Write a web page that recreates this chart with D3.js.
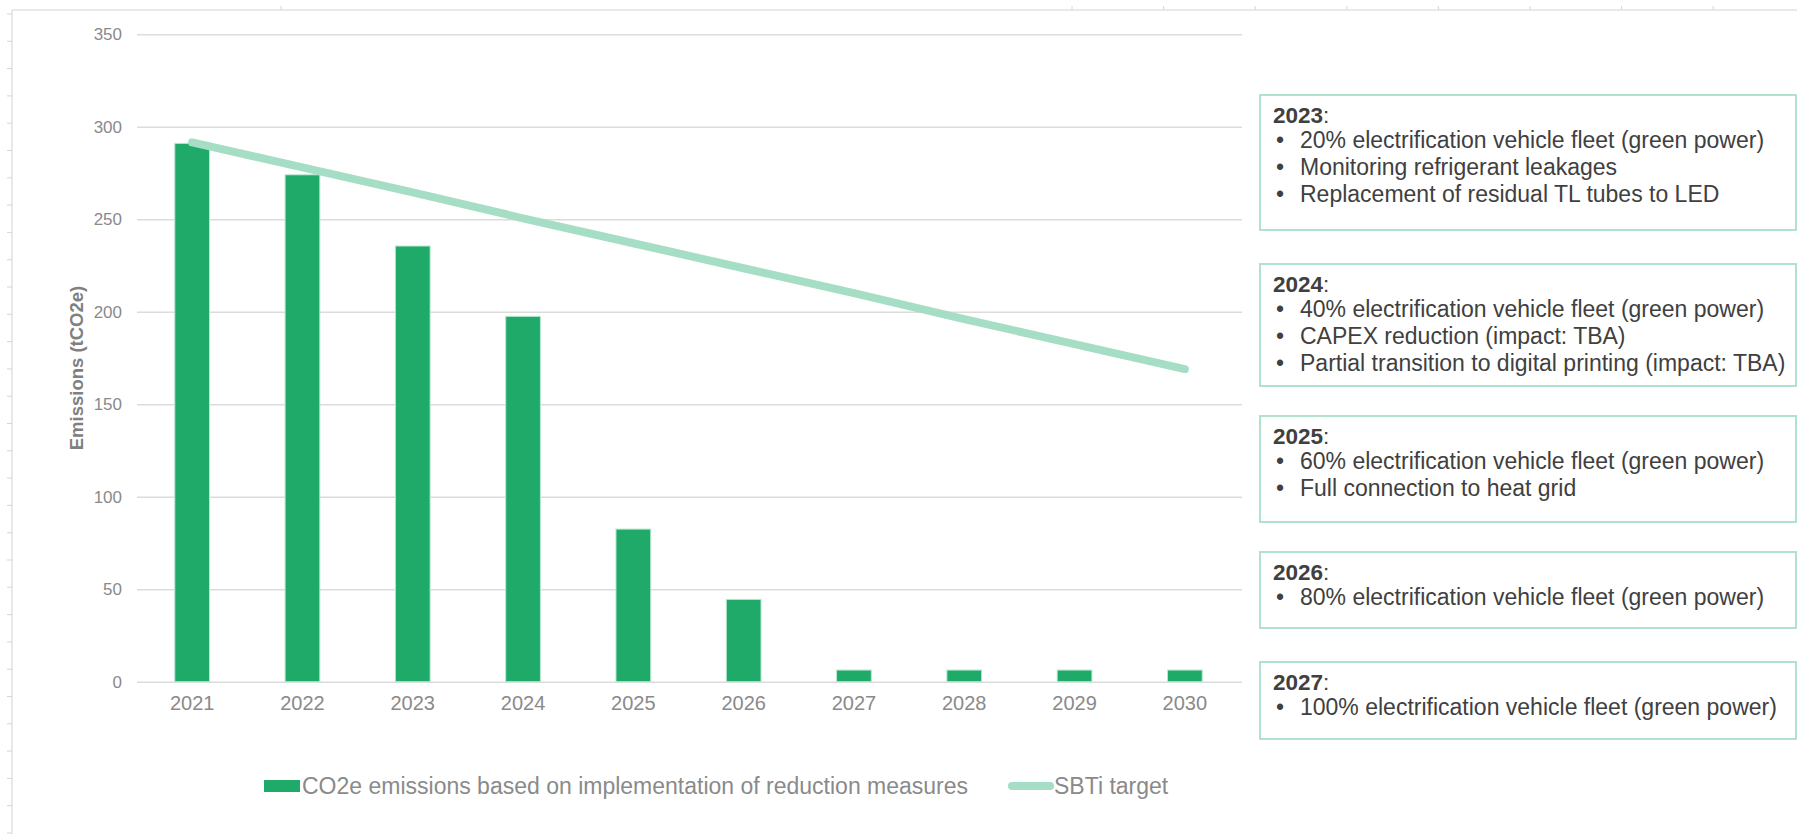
<!DOCTYPE html>
<html>
<head>
<meta charset="utf-8">
<script src="https://cdn.jsdelivr.net/npm/d3@7"></script>
<style>
  body { margin: 0; background: #fff; }
  svg text { font-family: "Liberation Sans", Arial, sans-serif; }
</style>
</head>
<body>
<svg id="vis" width="1797" height="834"></svg>
<script>
// chart values
const years = ["2021", "2022", "2023", "2024", "2025", "2026", "2027", "2028", "2029", "2030"];
const emissions = [291, 274, 235.5, 197.5, 82.5, 44.5, 6.3, 6.3, 6.3, 6.3];
const sbtiTarget = [291.5, 278, 264.5, 250.5, 237, 223.5, 210, 196, 182.5, 169];
const yTicks = [0, 50, 100, 150, 200, 250, 300, 350];

const seriesNames = ["CO2e emissions based on implementation of reduction measures", "SBTi target"];

// reduction measures per year
const measureYears = ["2023", "2024", "2025", "2026", "2027"];
const measureItems = [
  ["20% electrification vehicle fleet (green power)", "Monitoring refrigerant leakages", "Replacement of residual TL tubes to LED"],
  ["40% electrification vehicle fleet (green power)", "CAPEX reduction (impact: TBA)", "Partial transition to digital printing (impact: TBA)"],
  ["60% electrification vehicle fleet (green power)", "Full connection to heat grid"],
  ["80% electrification vehicle fleet (green power)"],
  ["100% electrification vehicle fleet (green power)"]
];

// layout
const plot = { left: 137, right: 1240, top: 34.2, bottom: 681.7 };
const boxLeft = 1260;
const boxTops = [95, 264, 416, 552, 662];
const boxBottoms = [230, 386, 522, 628, 739];

const colors = {
  bar: "#1faa69",
  barEdge: "#b9e8d0",
  line: "#a5dec4",
  grid: "#dcdcdc",
  label: "#8a8a8a",
  boxEdge: "#a9dfc6",
  boxText: "#404040"
};

const svg = d3.select("svg#vis");

// sheet frame (the spreadsheet edges behind the chart)
const frame = svg.append("g").attr("id", "frame");
frame.append("line")
  .attr("x1", 12).attr("x2", 1797).attr("y1", 10).attr("y2", 10)
  .attr("stroke", "#e2e2e2").attr("stroke-width", 1.5);
frame.append("line")
  .attr("x1", 12).attr("x2", 12).attr("y1", 10).attr("y2", 834)
  .attr("stroke", "#e2e2e2").attr("stroke-width", 1.5);
const topTicks = [281].concat(d3.range(1072, 1797, 91.6));
frame.selectAll("line.ttick")
  .data(topTicks)
  .enter()
  .append("line")
  .attr("class", "ttick")
  .attr("x1", d => d).attr("x2", d => d).attr("y1", 6).attr("y2", 10)
  .attr("stroke", "#d6d6d6");
frame.selectAll("line.ltick")
  .data(d3.range(14, 834, 27.3))
  .enter()
  .append("line")
  .attr("class", "ltick")
  .attr("x1", 7).attr("x2", 12).attr("y1", d => d).attr("y2", d => d)
  .attr("stroke", "#d6d6d6");

// scales
const x = d3.scaleBand()
  .domain(years)
  .range([plot.left, plot.right])
  .paddingInner(0.685)
  .paddingOuter(0.3425);

const y = d3.scaleLinear()
  .domain([0, 350])
  .range([plot.bottom, plot.top]);

// gridlines + y labels
const yAxis = svg.append("g")
  .attr("transform", `translate(${plot.left},0)`)
  .call(d3.axisLeft(y).tickValues(yTicks).tickSize(-(plot.right + 2 - plot.left)).tickPadding(15));
yAxis.select(".domain").remove();
yAxis.selectAll(".tick line").attr("stroke", colors.grid).attr("stroke-width", 1.5);
yAxis.selectAll(".tick text")
  .attr("fill", colors.label)
  .style("font-size", "17px")
  .style("font-family", "'Liberation Sans', Arial, sans-serif");

// x labels
const xAxis = svg.append("g")
  .attr("transform", `translate(0,${plot.bottom})`)
  .call(d3.axisBottom(x).tickSize(0).tickPadding(14));
xAxis.select(".domain").remove();
xAxis.selectAll(".tick text")
  .attr("fill", colors.label)
  .style("font-size", "20px")
  .style("font-family", "'Liberation Sans', Arial, sans-serif");

// y title
svg.append("text")
  .attr("transform", "translate(83,368) rotate(-90)")
  .attr("text-anchor", "middle")
  .attr("fill", "#808080")
  .style("font-size", "18.5px")
  .style("font-weight", "bold")
  .text("Emissions (tCO2e)");

// bars
svg.append("g").selectAll("rect")
  .data(emissions)
  .enter()
  .append("rect")
  .attr("x", (d, i) => x(years[i]))
  .attr("width", x.bandwidth())
  .attr("y", d => y(d))
  .attr("height", d => y(0) - y(d))
  .attr("fill", colors.bar)
  .attr("stroke", colors.barEdge)
  .attr("stroke-width", 1);

// SBTi target line
const line = d3.line()
  .x((d, i) => x(years[i]) + x.bandwidth() / 2)
  .y(d => y(d));

svg.append("path")
  .datum(sbtiTarget)
  .attr("d", line)
  .attr("fill", "none")
  .attr("stroke", colors.line)
  .attr("stroke-width", 8)
  .attr("stroke-linecap", "round")
  .attr("stroke-linejoin", "round");

// legend
const legend = svg.append("g").attr("id", "legend");
legend.append("rect")
  .attr("x", 264).attr("y", 780).attr("width", 36).attr("height", 12)
  .attr("fill", colors.bar);
legend.append("text")
  .attr("x", 302).attr("y", 794)
  .attr("fill", colors.label)
  .style("font-size", "23px")
  .text(seriesNames[0]);
legend.append("line")
  .attr("x1", 1012).attr("x2", 1050).attr("y1", 786).attr("y2", 786)
  .attr("stroke", colors.line).attr("stroke-width", 8).attr("stroke-linecap", "round");
legend.append("text")
  .attr("x", 1054).attr("y", 794)
  .attr("fill", colors.label)
  .style("font-size", "23px")
  .text(seriesNames[1]);

// measure boxes
const boxes = svg.append("g").attr("id", "measures")
  .selectAll("g.box")
  .data(measureYears)
  .enter()
  .append("g")
  .attr("class", "box")
  .attr("transform", (d, i) => `translate(${boxLeft},${boxTops[i]})`);

boxes.append("rect")
  .attr("x", 0).attr("y", 0)
  .attr("width", 1796 - boxLeft)
  .attr("height", (d, i) => boxBottoms[i] - boxTops[i])
  .attr("fill", "#fff")
  .attr("stroke", colors.boxEdge)
  .attr("stroke-width", 1.8);

const heading = boxes.append("text")
  .attr("x", 13).attr("y", 28)
  .attr("fill", colors.boxText)
  .style("font-size", "22.5px");
heading.append("tspan").style("font-weight", "bold").text(d => d);
heading.append("tspan").text(":");

boxes.each(function(d, i) {
  const g = d3.select(this);
  const rows = g.selectAll("g.row")
    .data(measureItems[i])
    .enter()
    .append("g")
    .attr("class", "row")
    .attr("transform", (t, j) => `translate(0,${53 + j * 27})`);
  rows.append("text")
    .attr("x", 16)
    .attr("fill", colors.boxText)
    .style("font-size", "23px")
    .text("\u2022");
  rows.append("text")
    .attr("x", 40)
    .attr("fill", colors.boxText)
    .style("font-size", "23px")
    .text(t => t);
});
</script>
</body>
</html>
